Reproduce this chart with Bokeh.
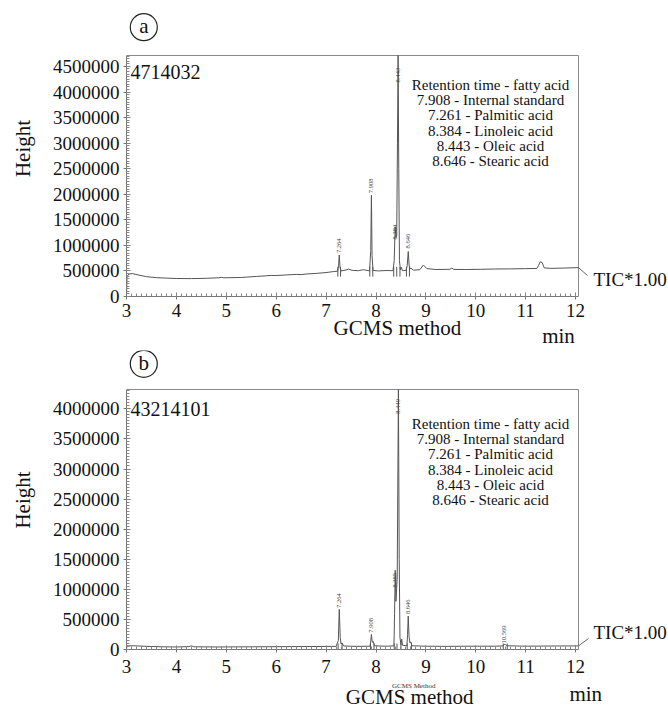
import math
from bokeh.plotting import figure
from bokeh.models import FixedTicker, PrintfTickFormatter, ColumnDataSource, Range1d, LinearAxis
from bokeh.layouts import column
from bokeh.embed import file_html
from bokeh.resources import INLINE
from bokeh.core.properties import value

FONT = "Liberation Serif"

# ---------------- data ----------------
a_time = [3.000, 3.010, 3.050, 3.120, 3.250, 3.400, 3.600, 3.800, 4.000, 4.300,
          4.600, 4.850, 4.900, 4.950, 5.300, 5.600, 5.800, 5.900, 6.000, 6.200,
          6.400, 6.500, 6.600, 6.800, 7.000, 7.150, 7.230, 7.250, 7.264, 7.278,
          7.300, 7.380, 7.450, 7.520, 7.650, 7.750, 7.870, 7.895, 7.908, 7.921,
          7.940, 8.050, 8.200, 8.340, 8.365, 8.384, 8.400, 8.415, 8.430, 8.443,
          8.456, 8.470, 8.490, 8.510, 8.530, 8.600, 8.625, 8.646, 8.665, 8.680,
          8.700, 8.750, 8.880, 8.950, 9.020, 9.200, 9.480, 9.520, 9.560, 9.800,
          10.100, 10.400, 10.700, 11.000, 11.220, 11.260, 11.290, 11.330, 11.370, 11.500,
          11.750, 12.058]
a_height = [0, 390000, 440000, 448000, 418000, 388000, 368000, 360000, 352000, 350000,
            356000, 366000, 375000, 366000, 372000, 392000, 405000, 412000, 410000, 422000,
            432000, 428000, 440000, 452000, 468000, 488000, 495000, 600000, 811000, 580000,
            500000, 515000, 535000, 512000, 505000, 525000, 500000, 900000, 1980000, 800000,
            510000, 500000, 508000, 505000, 700000, 1360000, 1150000, 1200000, 3000000, 4714032,
            2500000, 700000, 520000, 570000, 505000, 510000, 600000, 880000, 600000, 540000,
            555000, 515000, 525000, 615000, 545000, 528000, 532000, 556000, 530000, 528000,
            532000, 538000, 540000, 545000, 548000, 610000, 680000, 665000, 560000, 550000,
            556000, 565000]

b_time = [3.000, 3.010, 3.150, 3.400, 3.700, 4.000, 4.250, 4.300, 4.350, 4.800,
          5.300, 5.800, 6.300, 6.800, 7.200, 7.245, 7.264, 7.283, 7.300, 7.320,
          7.350, 7.600, 7.880, 7.895, 7.908, 7.925, 7.945, 7.970, 8.200, 8.360,
          8.372, 8.385, 8.400, 8.425, 8.449, 8.465, 8.480, 8.500, 8.515, 8.530,
          8.620, 8.632, 8.646, 8.662, 8.680, 8.700, 8.720, 9.000, 9.400, 9.900,
          10.400, 10.550, 10.569, 10.600, 10.630, 11.000, 11.500, 12.058]
b_height = [0, 60000, 62000, 52000, 45000, 42000, 48000, 60000, 45000, 42000,
            44000, 46000, 48000, 50000, 52000, 150000, 667000, 200000, 90000, 110000,
            58000, 52000, 55000, 140000, 250000, 120000, 135000, 60000, 55000, 60000,
            600000, 1317000, 800000, 1200000, 4321410, 1500000, 200000, 80000, 170000, 70000,
            62000, 250000, 555000, 220000, 110000, 125000, 62000, 55000, 52000, 55000,
            55000, 60000, 85000, 78000, 62000, 55000, 58000, 60000]

x_ticks = [3, 4, 5, 6, 7, 8, 9, 10, 11, 12]
a_y_ticks = [0, 500000, 1000000, 1500000, 2000000, 2500000, 3000000, 3500000, 4000000, 4500000]
b_y_ticks = [0, 500000, 1000000, 1500000, 2000000, 2500000, 3000000, 3500000, 4000000]

legend_lines = ["Retention time - fatty acid", "7.908 - Internal standard",
                "7.261 - Palmitic acid", "8.384 - Linoleic acid",
                "8.443 - Oleic acid", "8.646 - Stearic acid"]

a_peak_labels = ["7.264", "7.908", "8.384", "8.443", "8.646"]
a_peak_label_y = [850000, 2020000, 1115000, 4186000, 940000]
b_peak_labels = ["7.264", "7.908", "8.385", "8.449", "8.646", "10.569"]
b_peak_label_y = [690000, 280000, 1030000, 3920000, 590000, 100000]

a_marks = [7.235, 7.290, 7.875, 7.935, 8.355, 8.415, 8.480, 8.610, 8.670]
b_marks = [7.240, 7.320, 7.890, 7.960, 8.365, 8.420, 8.500, 8.625, 8.710, 10.550, 10.630]

a_max = "4714032"
b_max = "43214101"
trace_name = "TIC*1.00"
x_title = "GCMS method"
x_title_small = "GCMS Method"
x_unit = "min"

# ---------------- geometry (page pixels) ----------------
X0, X1 = 3.0, 12.058
FRAME_L, FRAME_W = 126, 452     # plotted box: page x 126 .. 578
FIG_W = 668
TXT = "#111111"
XPP = (X1 - X0) / FRAME_W


def dx(px):
    return X0 + (px - FRAME_L) * XPP


def style_axis(ax):
    ax.axis_line_color = "#777777"
    ax.major_tick_line_color = "#777777"
    ax.minor_tick_line_color = "#888888"
    ax.major_tick_in = 4
    ax.major_tick_out = 3
    ax.minor_tick_in = 3
    ax.minor_tick_out = 0
    ax.major_label_text_font = FONT
    ax.major_label_text_font_size = "19px"
    ax.major_label_text_color = TXT
    ax.axis_label_text_font = FONT
    ax.axis_label_text_font_style = "normal"
    ax.axis_label_text_font_size = "21px"
    ax.axis_label_text_color = TXT


def make_panel(times, heights, y_ticks, y_top, max_label, letter, peak_labels, peak_y,
               marks, mark_y0, mark_y1, fig_top, T, B, bottom_border, label_standoff, cfg):
    ypp = y_top / (B - T)

    def dy(py):
        return (B - py) * ypp

    fig_h = B - fig_top + bottom_border
    p = figure(width=FIG_W, height=fig_h, output_backend="svg", toolbar_location=None,
               x_range=Range1d(X0, dx(FIG_W)), y_range=Range1d(0, dy(fig_top)),
               min_border_left=FRAME_L, min_border_right=0,
               min_border_top=0, min_border_bottom=bottom_border)
    p.grid.visible = False
    p.outline_line_color = None
    p.background_fill_color = "white"
    p.border_fill_color = "white"

    style_axis(p.xaxis[0])
    style_axis(p.yaxis[0])
    p.xaxis.bounds = (X0, X1)
    p.yaxis.bounds = (0, y_top)
    p.xaxis.ticker = FixedTicker(ticks=x_ticks, minor_ticks=[x_ticks[0] + i * 0.1 for i in range(91)])
    p.xaxis.major_label_standoff = label_standoff
    p.yaxis.ticker = FixedTicker(ticks=y_ticks,
                                 minor_ticks=[i * 50000 for i in range(int(y_top // 50000) + 1)])
    p.yaxis.formatter = PrintfTickFormatter(format="%d")
    p.yaxis.major_label_standoff = 4
    p.yaxis.axis_label = "Height"
    p.yaxis.axis_label_standoff = 15

    # box edges (top and right)
    p.segment(x0=[X0, X1], y0=[y_top, 0], x1=[X1, X1], y1=[y_top, y_top],
              line_color="#8a8a8a", line_width=1)

    # chromatogram trace
    p.line(times, heights, line_color="#555555", line_width=1)

    # integration marks
    p.segment(x0=marks, y0=[mark_y0] * len(marks), x1=marks, y1=[mark_y1] * len(marks),
              line_color="#555555", line_width=1)

    # vertical peak labels
    src = ColumnDataSource(dict(x=[float(s) for s in peak_labels], y=peak_y, t=peak_labels))
    p.text(x="x", y="y", text="t", source=src, angle=math.pi / 2, text_align="left",
           text_baseline="middle", text_font=value(FONT), text_font_size="6.5px",
           text_color="#444444")

    # retention-time legend
    ly = [dy(cfg["legend_y0"] + i * cfg["legend_dy"]) for i in range(len(legend_lines))]
    p.text(x=[dx(490)] * len(legend_lines), y=ly, text=legend_lines, text_align="center",
           text_baseline="middle", text_font=value(FONT), text_font_size="15px", text_color=TXT)

    # max intensity
    p.text(x=[dx(130)], y=[dy(cfg["max_y"])], text=[max_label], text_align="left",
           text_baseline="middle", text_font=value(FONT), text_font_size="20px", text_color=TXT)

    # circled panel letter
    p.scatter(x=[dx(143.3)], y=[dy(cfg["letter_y"])], marker="circle", size=27,
              fill_color=None, line_color="#222222", line_width=1.2)
    p.text(x=[dx(143.3)], y=[dy(cfg["letter_y"])], text=[letter], text_align="center",
           text_baseline="middle", text_font=value(FONT), text_font_size="21px", text_color=TXT,
           y_offset=-1)

    # TIC label + connector
    p.segment(x0=[times[-1]], y0=[heights[-1]], x1=[dx(cfg["conn_end"][0])],
              y1=[dy(cfg["conn_end"][1])], line_color="#666666", line_width=1)
    p.text(x=[dx(593)], y=[dy(cfg["tic_y"])], text=[trace_name], text_align="left",
           text_baseline="middle", text_font=value(FONT), text_font_size="19px", text_color=TXT)
    return p


def text_strip(top, height, items):
    s = figure(width=FIG_W, height=height, output_backend="svg", toolbar_location=None,
               x_range=Range1d(0, FIG_W), y_range=Range1d(top + height, top),
               x_axis_type=None, y_axis_type=None,
               min_border_left=0, min_border_right=0, min_border_top=0, min_border_bottom=0)
    s.grid.visible = False
    s.outline_line_color = None
    s.background_fill_color = "white"
    s.border_fill_color = "white"
    for (txt, x, y, size, color, baseline) in items:
        s.text(x=[x], y=[y], text=[txt], text_align="center", text_baseline=baseline,
               text_font=value(FONT), text_font_size=size, text_color=color)
    return s


# ---- panel (a): x title and unit live in the axis panel ----
pa = make_panel(a_time, a_height, a_y_ticks, 4714032, a_max, "a", a_peak_labels, a_peak_label_y,
                a_marks, 390000, 580000, fig_top=0, T=55, B=296, bottom_border=54,
                label_standoff=4,
                cfg=dict(legend_y0=84.5, legend_dy=15.2, max_y=71, letter_y=26.7,
                         conn_end=(587, 275), tic_y=279))
pa.xaxis[0].axis_label = x_title
pa.xaxis[0].axis_label_standoff = -4
unit_pos = dx(558)
unit_axis = LinearAxis(ticker=FixedTicker(ticks=[unit_pos]),
                       major_label_overrides={unit_pos: x_unit},
                       axis_line_color=None, major_tick_line_color=None,
                       minor_tick_line_color=None, major_tick_in=0, major_tick_out=0,
                       major_label_standoff=-19, major_label_text_font=FONT,
                       major_label_text_font_size="21px", major_label_text_color=TXT)
pa.add_layout(unit_axis, "below")

# ---- panel (b) ----
pb = make_panel(b_time, b_height, b_y_ticks, 4321410, b_max, "b", b_peak_labels, b_peak_label_y,
                b_marks, 0, 100000, fig_top=350, T=389, B=649, bottom_border=32,
                label_standoff=7,
                cfg=dict(legend_y0=423.5, legend_dy=15.2, max_y=408, letter_y=363.3,
                         conn_end=(588, 638), tic_y=632))
tb = text_strip(681, 27, [(x_title_small, 354, 685.5, "7px", "#333333", "middle"),
                          (x_unit, 566, 693, "21px", TXT, "middle"),
                          (x_title, 349, 708, "21px", TXT, "bottom")])

layout = column(pa, pb, tb, spacing=0)
open("out.html", "w").write(file_html(layout, INLINE))
